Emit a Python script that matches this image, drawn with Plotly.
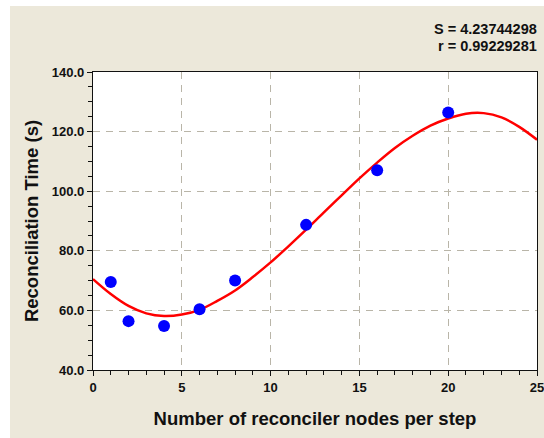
import plotly.graph_objects as go

# Data
nodes = [1, 2, 4, 6, 8, 12, 16, 20]
times = [69.5, 56.4, 54.8, 60.4, 70.0, 88.7, 107.0, 126.4]

fit_x = list(range(0, 26))
fit_y = [70.5, 65.5, 61.5, 59.0, 58.1, 58.6, 60.2, 63.2, 66.7, 71.2, 76.1,
         81.5, 87.1, 92.9, 98.6, 104.3, 109.6, 114.5, 118.6, 122.0, 124.4,
         126.0, 126.2, 124.8, 121.6, 117.3]

x_ticks = [0, 5, 10, 15, 20, 25]
y_ticks = [40, 60, 80, 100, 120, 140]
stats_text = ["S = 4.23744298", "r = 0.99229281"]

W, H = 544, 438
ML, MR, MT, MB = 93, 7, 72, 68
PW, PH = W - ML - MR, H - MT - MB

def px2x(px):
    return (px - ML) / PW

def py2y(py):
    return (H - MB - py) / PH

CREAM = "#ece8da"
GRID = "#b9b5a8"
FONT = "Liberation Sans, Arial, sans-serif"

fig = go.Figure()
fig.add_trace(go.Scatter(x=fit_x, y=fit_y, mode="lines",
                         line=dict(color="#ff0000", width=2.5, shape="spline"),
                         hoverinfo="skip", showlegend=False))
fig.add_trace(go.Scatter(x=nodes, y=times, mode="markers",
                         marker=dict(color="#0000ff", size=12, line=dict(width=0)),
                         showlegend=False))

axis_common = dict(
    showline=True, linecolor="#111111", linewidth=1.2, mirror=True,
    ticks="outside", ticklen=5, tickcolor="#111111", tickwidth=1,
    showgrid=True, gridcolor=GRID, gridwidth=1, griddash="7px,6px",
    zeroline=False, ticklabeloverflow="allow", automargin=False,
    tickfont=dict(family=FONT, size=13, color="#111111", weight="bold"),
    title_font=dict(family=FONT, size=18.5, color="#111111", weight="bold"),
)

fig.update_xaxes(
    range=[0, 25], tickvals=x_ticks, ticktext=[str(v) for v in x_ticks],
    minor=dict(dtick=1, ticks="outside", ticklen=4, tickcolor="#111111", showgrid=False),
    title_text="Number of reconciler nodes per step", title_standoff=18,
    **axis_common)
fig.update_yaxes(
    range=[40, 140], tickvals=y_ticks, tickformat=".1f",
    minor=dict(dtick=5, ticks="outside", ticklen=4, tickcolor="#111111", showgrid=False),
    title_text="Reconciliation Time (s)", title_standoff=8,
    **axis_common)

shapes = [
    dict(type="rect", xref="paper", yref="paper", x0=px2x(-5), x1=px2x(10),
         y0=py2y(H + 5), y1=py2y(-5), fillcolor="white", line=dict(width=0), layer="below"),
    dict(type="rect", xref="paper", yref="paper", x0=px2x(-5), x1=px2x(W + 5),
         y0=py2y(6), y1=py2y(-5), fillcolor="white", line=dict(width=0), layer="below"),
]

annotations = []
for i, t in enumerate(stats_text):
    annotations.append(dict(text=t, xref="paper", yref="paper", x=px2x(539),
                            y=py2y(29 + 17 * i), xanchor="right", yanchor="middle",
                            showarrow=False,
                            font=dict(family=FONT, size=14.5, color="#111111", weight="bold")))

fig.update_layout(
    width=W, height=H,
    margin=dict(l=ML, r=MR, t=MT, b=MB, autoexpand=False),
    paper_bgcolor=CREAM, plot_bgcolor="white",
    shapes=shapes, annotations=annotations,
    showlegend=False,
)

fig.write_html("out.html", config={"displayModeBar": False},
               post_script="document.body.style.margin='0';")
